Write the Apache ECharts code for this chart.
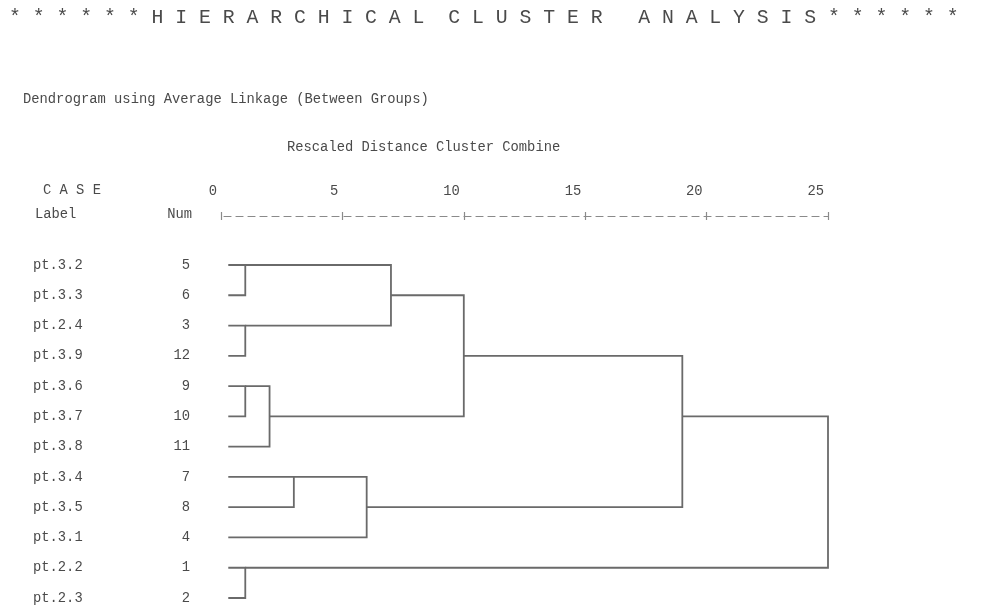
<!DOCTYPE html>
<html>
<head>
<meta charset="utf-8">
<title>Hierarchical Cluster Analysis</title>
<script src="https://cdn.jsdelivr.net/npm/echarts@6/dist/echarts.min.js"></script>
<style>
  html, body { margin: 0; padding: 0; background: #ffffff; }
  #chart { width: 982px; height: 607px; }
</style>
</head>
<body>
<div id="chart"></div>
<script>
// Cases in dendrogram order (top to bottom)
const caseLabels = ['pt.3.2', 'pt.3.3', 'pt.2.4', 'pt.3.9', 'pt.3.6', 'pt.3.7',
                    'pt.3.8', 'pt.3.4', 'pt.3.5', 'pt.3.1', 'pt.2.2', 'pt.2.3'];
const caseNums = [5, 6, 3, 12, 9, 10, 11, 7, 8, 4, 1, 2];

// Agglomeration schedule: negative = case number, positive = earlier stage (1-based)
const mergeA = [-5, -3, -9, -1, 3, -7, 6, 1, 8, 9, 10];
const mergeB = [-6, -12, -10, -2, -11, -8, -4, 2, 5, 7, 4];
// Rescaled distance (0-25) at which each stage combines
const mergeHeight = [1, 1, 1, 1, 2, 3, 6, 7, 10, 19, 25];

const distTicks = [0, 5, 10, 15, 20, 25];

const MONO = "'Courier New', 'Liberation Mono', monospace";
const TEXT = '#4a4a4a';
const LINE = '#6a6a6a';
const AXIS = '#8a8a8a';
const LEAF_START = 0.3;   // leaf lines begin just right of the zero mark

// Work out the row and distance for each node of the tree
const rowOfCase = {};
caseNums.forEach((n, i) => { rowOfCase[n] = i; });
const stageRow = [];
const nodeRow = id => id < 0 ? rowOfCase[-id] : stageRow[id - 1];
const nodeDist = id => id < 0 ? LEAF_START : mergeHeight[id - 1];

const links = [];
for (let i = 0; i < mergeHeight.length; i++) {
  const rA = nodeRow(mergeA[i]), rB = nodeRow(mergeB[i]);
  stageRow.push(Math.floor((rA + rB) / 2));
  links.push([mergeHeight[i], nodeDist(mergeA[i]), rA, nodeDist(mergeB[i]), rB]);
}

const chart = echarts.init(document.getElementById('chart'), null, { renderer: 'canvas' });

// Distance scale drawn as a "+-----+" rule above the tree
const axisCommon = {
  type: 'value',
  min: distTicks[0], max: distTicks[distTicks.length - 1],
  interval: distTicks[1] - distTicks[0],
  position: 'top', offset: 49,
  splitLine: { show: false }
};

chart.setOption({
  animation: false,
  backgroundColor: '#ffffff',
  grid: { left: 221, right: 154, top: 265, bottom: 9, containLabel: false },
  xAxis: [
    Object.assign({}, axisCommon, {
      axisLine: { show: true, onZero: false,
                  lineStyle: { color: AXIS, width: 1.2, type: [7, 5], dashOffset: -3 } },
      axisTick: { show: true, inside: false, length: 4, lineStyle: { color: AXIS, width: 1.2 } },
      axisLabel: {
        show: true, margin: 18, align: 'right',
        formatter: v => '{v|' + v + '}{p| }',
        rich: {
          v: { fontFamily: MONO, fontSize: 13.8, color: TEXT },
          p: { width: 4, fontSize: 13.8 }
        }
      }
    }),
    Object.assign({}, axisCommon, {
      axisLine: { show: false, onZero: false },
      axisTick: { show: true, inside: true, length: 4, lineStyle: { color: AXIS, width: 1.2 } },
      axisLabel: { show: false }
    })
  ],
  yAxis: {
    type: 'value', min: 0, max: caseLabels.length - 1, interval: 1, inverse: true,
    axisLine: { show: false }, axisTick: { show: false }, splitLine: { show: false },
    axisLabel: {
      margin: 31,
      formatter: v => '{a|' + caseLabels[v] + '}{b|' + caseNums[v] + '}',
      rich: {
        a: { width: 120, align: 'left', fontFamily: MONO, fontSize: 13.8, color: TEXT },
        b: { width: 37, align: 'right', fontFamily: MONO, fontSize: 13.8, color: TEXT }
      }
    }
  },
  series: [{
    type: 'custom',
    xAxisIndex: 0,
    data: links,
    encode: { x: [0, 1, 3], y: [2, 4] },
    renderItem: (params, api) => {
      const h = api.value(0);
      const xA = api.value(1), rA = api.value(2);
      const xB = api.value(3), rB = api.value(4);
      return {
        type: 'polyline',
        shape: { points: [api.coord([xA, rA]), api.coord([h, rA]), api.coord([h, rB]), api.coord([xB, rB])] },
        style: { stroke: LINE, lineWidth: 1.8, fill: null, lineJoin: 'miter' }
      };
    }
  }],
  graphic: [
    { type: 'text', left: 9, top: 8,
      style: { text: '* * * * * * H I E R A R C H I C A L  C L U S T E R   A N A L Y S I S * * * * * *',
               font: '19.8px ' + MONO, fill: TEXT } },
    { type: 'text', left: 23, top: 92,
      style: { text: 'Dendrogram using Average Linkage (Between Groups)', font: '13.8px ' + MONO, fill: TEXT } },
    { type: 'text', left: 287, top: 140,
      style: { text: 'Rescaled Distance Cluster Combine', font: '13.8px ' + MONO, fill: TEXT } },
    { type: 'text', left: 43, top: 183,
      style: { text: 'C A S E', font: '13.8px ' + MONO, fill: TEXT } },
    { type: 'text', left: 35, top: 207,
      style: { text: 'Label', font: '13.8px ' + MONO, fill: TEXT } },
    { type: 'text', right: 790, top: 207,
      style: { text: 'Num', font: '13.8px ' + MONO, fill: TEXT } }
  ]
});
</script>
</body>
</html>
